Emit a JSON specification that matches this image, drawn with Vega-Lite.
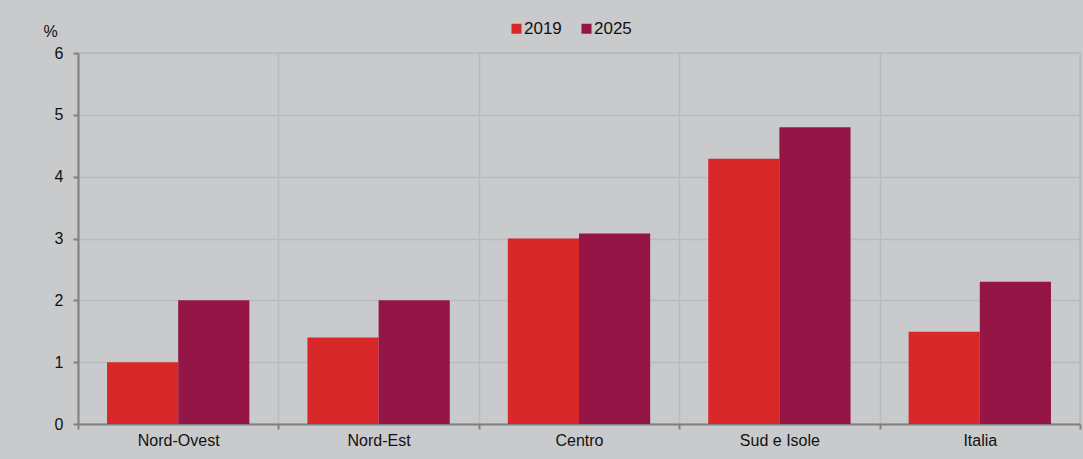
{
  "$schema": "https://vega.github.io/schema/vega-lite/v6.json",
  "width": 1002,
  "height": 371,
  "autosize": {"type": "none"},
  "padding": {"left": 78, "top": 53, "right": 3, "bottom": 35},
  "background": "#C9CACC",
  "config": {
    "font": "Liberation Sans",
    "view": {"stroke": "#B9BABC", "strokeWidth": 1.5},
    "axis": {"labelFont": "Liberation Sans", "labelFontSize": 16, "labelColor": "#111111", "domainColor": "#808080", "domainWidth": 2, "tickColor": "#808080", "tickWidth": 2, "tickSize": 5, "gridColor": "#B9BABC", "gridWidth": 1.5}
  },
  "data": {"values": [
    {"area": "Nord-Ovest", "anno": "2019", "v": 1.0},
    {"area": "Nord-Ovest", "anno": "2025", "v": 2.0},
    {"area": "Nord-Est", "anno": "2019", "v": 1.4},
    {"area": "Nord-Est", "anno": "2025", "v": 2.0},
    {"area": "Centro", "anno": "2019", "v": 3.0},
    {"area": "Centro", "anno": "2025", "v": 3.08},
    {"area": "Sud e Isole", "anno": "2019", "v": 4.29},
    {"area": "Sud e Isole", "anno": "2025", "v": 4.8},
    {"area": "Italia", "anno": "2019", "v": 1.49},
    {"area": "Italia", "anno": "2025", "v": 2.3}
  ]},
  "mark": {"type": "bar"},
  "encoding": {
    "x": {"field": "area", "type": "nominal", "sort": null,
      "scale": {"paddingInner": 0, "paddingOuter": 0},
      "axis": {"title": null, "labelAngle": 0, "tickBand": "extent", "grid": true, "labelPadding": 3}},
    "xOffset": {"field": "anno", "type": "nominal",
      "scale": {"paddingInner": 0, "paddingOuter": 0.408}},
    "y": {"field": "v", "type": "quantitative",
      "scale": {"domain": [0, 6], "nice": false},
      "axis": {"values": [0, 1, 2, 3, 4, 5, 6], "title": "%", "titleAngle": 0, "titleX": -28, "titleY": -22, "titleAlign": "center", "titleBaseline": "middle", "titleFont": "Liberation Sans", "titleFontSize": 16, "titleFontWeight": "normal", "titleColor": "#111111", "labelPadding": 10}},
    "color": {"field": "anno", "type": "nominal",
      "scale": {"domain": ["2019", "2025"], "range": ["#D82829", "#941546"]},
      "legend": {"title": null, "orient": "none", "direction": "horizontal", "legendX": 430, "legendY": -33, "symbolType": "square", "symbolSize": 100, "symbolStrokeWidth": 0, "labelFontSize": 17, "labelFont": "Liberation Sans", "labelColor": "#111111", "labelOffset": -1, "columnPadding": 16}}
  }
}
